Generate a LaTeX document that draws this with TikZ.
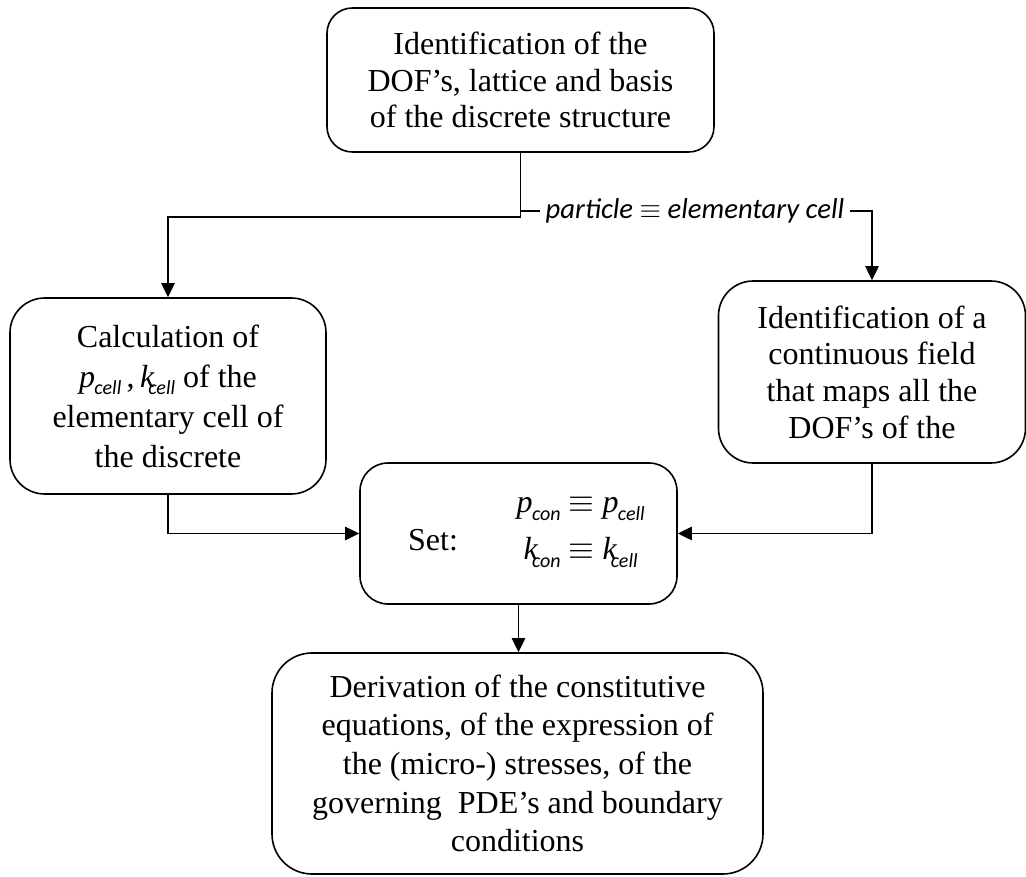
\documentclass[tikz,border=0pt]{standalone}
\usepackage{fontspec}
\setmainfont{Liberation Serif}
\newfontfamily\calfont{Carlito}
\usetikzlibrary{arrows.meta}
\newcommand\subv[1]{\raisebox{-0.24em}{\calfont\itshape\fontsize{15}{15}\selectfont #1}}
\newcommand\pv[1]{\textit{p}\kern-0.02em\subv{#1}}
\newcommand\kv[1]{\textit{k}\kern-0.2em\subv{#1}}
\tikzset{
  box/.style={draw, line width=1.2pt, align=center, inner sep=0pt,
    font=\fontsize{24}{27.5}\selectfont},
  conn/.style={line width=1.2pt, -{Triangle[length=10.5pt,width=10pt]}},
  plain/.style={line width=1.2pt},
  lbl/.style={font=\calfont\itshape\fontsize{21.5}{24}\selectfont, inner xsep=4pt, inner ysep=2pt},
}
\begin{document}
\begin{tikzpicture}[x=0.75pt,y=-0.75pt]
\useasboundingbox (0,0) rectangle (1026,877);

\node[box, rounded corners=19pt, minimum width=290.25pt, minimum height=108pt] (top) at (520.5,80)
  {Identification of the\\DOF’s, lattice and basis\\of the discrete structure};

\node[box, rounded corners=26pt, minimum width=237pt, minimum height=147pt,
  font=\fontsize{24}{30}\selectfont] (left) at (168,396)
  {Calculation of\\\pv{cell}\,,\,\kv{cell}\ of the\\elementary cell of\\the discrete};

\node[box, rounded corners=26pt, minimum width=230.25pt, minimum height=136.5pt] (right) at (872,372)
  {Identification of a\\continuous field\\that maps all the\\DOF’s of the};

\node[box, rounded corners=21pt, minimum width=237.75pt, minimum height=105.75pt] (set) at (518.5,533.5)
  {\rule[-40pt]{0pt}{80pt}\hspace*{12pt}\raisebox{-13pt}{Set:}\hspace{44pt}%
   \raisebox{-2.6pt}{\begin{tabular}{@{}c@{}}\pv{con} $\equiv$ \pv{cell}\\[8pt]\kv{con} $\equiv$ \kv{cell}\end{tabular}}};

\node[box, rounded corners=30pt, minimum width=368.25pt, minimum height=165.75pt,
  font=\fontsize{24}{29}\selectfont] (bot) at (517.5,763.5)
  {Derivation of the constitutive\\equations, of the expression of\\the (micro-) stresses, of the\\governing\ \ PDE’s and boundary\\conditions};

\node[lbl] (lab) at (695,211) {particle $\equiv$ elementary cell};

\draw[conn] (top.south) -- ++(0,64) -| (left.north);
\draw[plain] (top.south |- lab.west) -- (lab.west);
\draw[conn] (lab.east) -| (right.north);
\draw[conn] (left.south) |- (set.west);
\draw[conn] (right.south) |- (set.east);
\draw[conn] (set.south) -- (set.south |- bot.north);
\end{tikzpicture}
\end{document}
